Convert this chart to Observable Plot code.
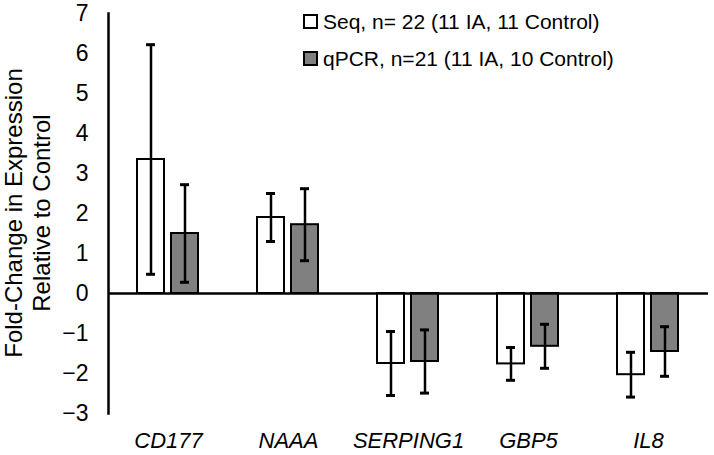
<!DOCTYPE html>
<html>
<head>
<meta charset="utf-8">
<script src="https://cdn.jsdelivr.net/npm/d3@7"></script>
<script src="https://cdn.jsdelivr.net/npm/@observablehq/plot@0.6"></script>
<style>
  html, body { margin: 0; padding: 0; background: #fff; }
  #wrap { position: relative; width: 714px; height: 455px; font-family: "Liberation Sans", Arial, sans-serif; }
  #legend { position: absolute; left: 303px; top: 3px; font-size: 21px; color: #000; }
  #legend .row { display: flex; align-items: center; height: 37px; line-height: 1; }
  #legend .sw { width: 11px; height: 11px; border: 2px solid #000; margin-right: 5px; box-sizing: content-box; }
</style>
</head>
<body>
<div id="wrap">
  <div id="chart"></div>
  <div id="legend"></div>
</div>
<script>
const genes = ["CD177", "NAAA", "SERPING1", "GBP5", "IL8"];
const seriesNames = ["Seq", "qPCR"];
const seriesLabels = ["Seq, n= 22 (11 IA, 11 Control)", "qPCR, n=21 (11 IA, 10 Control)"];
const seqValues = [3.35, 1.9, -1.75, -1.76, -2.03];
const seqErrors = [2.87, 0.6, 0.8, 0.41, 0.56];
const qpcrValues = [1.5, 1.72, -1.7, -1.32, -1.45];
const qpcrErrors = [1.22, 0.9, 0.79, 0.55, 0.62];
const yTicks = [-3, -2, -1, 0, 1, 2, 3, 4, 5, 6, 7];
const colors = ["#ffffff", "#808080"];
const yLabelLines = ["Fold-Change in Expression", "Relative to Control"];

const rows = [];
genes.forEach((g, i) => {
  rows.push({gene: g, series: "Seq", value: seqValues[i], err: seqErrors[i]});
  rows.push({gene: g, series: "qPCR", value: qpcrValues[i], err: qpcrErrors[i]});
});

const font = '"Liberation Sans", Arial, sans-serif';

const chart = Plot.plot({
  width: 714,
  height: 455,
  marginLeft: 106,
  marginRight: 4,
  marginTop: 13,
  marginBottom: 42,
  style: {fontFamily: font, background: "#fff", color: "#000"},
  fx: {domain: genes, padding: 0},
  x: {domain: seriesNames, paddingInner: 0.2, paddingOuter: 0.83, axis: null},
  y: {domain: [-3, 7]},
  color: {domain: seriesNames, range: colors},
  marks: [
    Plot.barY(rows, {fx: "gene", x: "series", y: "value", fill: "series", stroke: "#000", strokeWidth: 2}),
    Plot.ruleY([0], {stroke: "#000", strokeWidth: 2.5}),
    Plot.ruleX(rows, {fx: "gene", x: "series", y1: d => d.value - d.err, y2: d => d.value + d.err, stroke: "#000", strokeWidth: 2.5}),
    Plot.tickY(rows, {fx: "gene", x: "series", y: d => d.value - d.err, stroke: "#000", strokeWidth: 3, insetLeft: 9, insetRight: 9}),
    Plot.tickY(rows, {fx: "gene", x: "series", y: d => d.value + d.err, stroke: "#000", strokeWidth: 3, insetLeft: 9, insetRight: 9}),
    Plot.frame({anchor: "left", facetAnchor: "left", stroke: "#000", strokeWidth: 2.5}),
    Plot.axisY(yTicks, {anchor: "left", tickSize: 0, tickPadding: 20, fontSize: 23, label: null}),
    Plot.axisFx({anchor: "bottom", tickSize: 0, tickPadding: 19, fontSize: 22, fontStyle: "italic", label: null})
  ]
});
document.getElementById("chart").appendChild(chart);

// Two-line rotated y-axis title
const svg = d3.select(chart);
const title = svg.append("g")
  .attr("font-family", font)
  .attr("font-size", 24)
  .attr("fill", "#000")
  .attr("text-anchor", "middle");
const baselines = [22, 50];
yLabelLines.forEach((line, i) => {
  title.append("text")
    .attr("transform", `translate(${baselines[i]},213) rotate(-90)`)
    .text(line);
});

const legend = document.getElementById("legend");
seriesNames.forEach((s, i) => {
  const row = document.createElement("div");
  row.className = "row";
  const sw = document.createElement("span");
  sw.className = "sw";
  sw.style.background = colors[i];
  const t = document.createElement("span");
  t.textContent = seriesLabels[i];
  row.appendChild(sw);
  row.appendChild(t);
  legend.appendChild(row);
});
</script>
</body>
</html>
